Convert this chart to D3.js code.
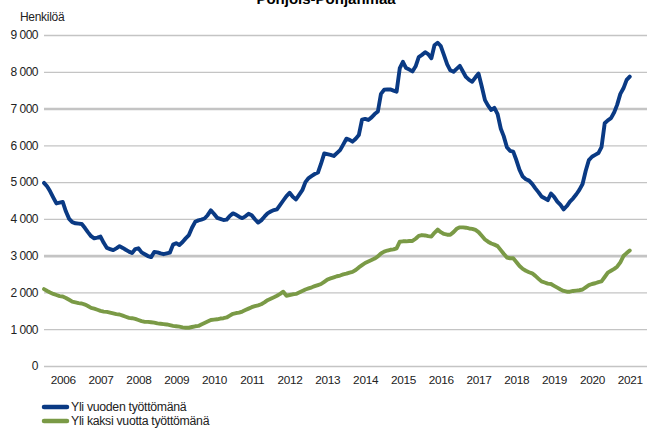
<!DOCTYPE html>
<html><head><meta charset="utf-8">
<script src="https://cdn.jsdelivr.net/npm/d3@7"></script>
<style>body{margin:0;background:#fff;}svg{display:block;font-family:"Liberation Sans",Arial,sans-serif;}</style>
</head><body><svg id="c" width="647" height="428"></svg>
<script>
const title = "Pohjois-Pohjanmaa";
const yTitle = "Henkilöä";
const seriesNames = ["Yli vuoden työttömänä", "Yli kaksi vuotta työttömänä"];
const yTicks = [0, 1000, 2000, 3000, 4000, 5000, 6000, 7000, 8000, 9000];
const yTickLabels = ["0", "1 000", "2 000", "3 000", "4 000", "5 000", "6 000", "7 000", "8 000", "9 000"];
const years = [2006,2007,2008,2009,2010,2011,2012,2013,2014,2015,2016,2017,2018,2019,2020,2021];
const startMonth = "2006-01";
// monthly, Jan 2006 – Jul 2021
const overOneYear = [
4980,4880,4750,4580,4420,4440,4460,4200,4000,3910,3880,3870,
3860,3750,3640,3530,3470,3490,3520,3350,3210,3180,3150,3200,
3260,3210,3160,3110,3070,3180,3200,3090,3040,2990,2960,3100,
3090,3060,3040,3060,3080,3300,3340,3290,3370,3470,3560,3760,
3920,3960,3980,4010,4100,4230,4140,4030,4000,3970,3980,4080,
4150,4110,4060,4020,4070,4140,4100,3990,3900,3960,4060,4150,
4200,4240,4260,4380,4500,4620,4710,4600,4530,4650,4780,5000,
5110,5170,5220,5260,5500,5780,5760,5740,5710,5790,5870,6020,
6180,6150,6100,6180,6280,6700,6720,6690,6760,6850,6920,7400,
7510,7520,7520,7490,7460,8100,8270,8100,8060,8010,8150,8400,
8460,8530,8480,8370,8720,8790,8700,8450,8200,8040,8000,8080,
8160,8000,7860,7780,7730,7850,7950,7600,7230,7080,6960,7020,
6850,6450,6250,5950,5850,5830,5600,5330,5150,5080,5040,4950,
4830,4720,4610,4560,4510,4690,4600,4470,4380,4260,4350,4470,
4560,4670,4790,4950,5300,5600,5690,5740,5790,5950,6600,6680,
6740,6900,7100,7400,7550,7780,7870];
const overTwoYears = [
2090,2040,2000,1960,1930,1900,1890,1850,1800,1750,1730,1710,
1700,1670,1630,1580,1560,1530,1500,1480,1470,1450,1430,1410,
1400,1370,1340,1310,1300,1280,1250,1220,1200,1200,1190,1180,
1160,1150,1140,1130,1110,1090,1080,1070,1050,1040,1040,1060,
1080,1090,1130,1170,1210,1250,1260,1270,1290,1300,1320,1370,
1420,1440,1450,1480,1520,1560,1600,1630,1650,1680,1730,1790,
1830,1870,1910,1960,2020,1910,1930,1950,1960,2000,2040,2080,
2110,2140,2170,2200,2230,2290,2350,2380,2410,2440,2460,2490,
2510,2540,2560,2610,2680,2740,2800,2840,2880,2920,2980,3060,
3110,3140,3160,3170,3200,3380,3390,3390,3400,3400,3460,3540,
3560,3550,3530,3520,3620,3710,3640,3590,3570,3570,3640,3730,
3770,3770,3760,3740,3730,3700,3640,3540,3440,3380,3330,3300,
3260,3150,3050,2950,2930,2930,2830,2720,2640,2590,2550,2520,
2450,2370,2300,2270,2240,2230,2180,2130,2080,2040,2020,2020,
2040,2050,2060,2080,2140,2200,2230,2250,2280,2300,2420,2540,
2590,2640,2700,2820,2990,3070,3140];

const colors = ["#0a3a84", "#7a9a46"];
const svg = d3.select("#c");
const parse = d3.timeParse("%Y-%m");
const t0 = parse(startMonth);
const months = d3.range(overOneYear.length).map(i => d3.timeMonth.offset(t0, i));

const x = d3.scaleTime().domain([new Date(2006,0,1), new Date(2022,0,1)]).range([44, 648.8]);
const y = d3.scaleLinear().domain([0, 9000]).range([366, 35]);

// title (cut at the top, as in the source image)
svg.append("text").attr("x", 326).attr("y", 4).attr("text-anchor", "middle")
  .attr("font-weight", "bold").attr("font-size", 15).attr("fill", "#000").text(title);
svg.append("text").attr("x", 20).attr("y", 21).attr("font-size", 12).attr("fill", "#222")
  .attr("letter-spacing", -0.3).text(yTitle);

// grid + y labels
const yAxis = d3.axisLeft(y).tickValues(yTicks).tickSize(0).tickPadding(6)
  .tickFormat((d, i) => yTickLabels[i]);
const gy = svg.append("g").attr("transform", "translate(44,0)").call(yAxis);
gy.select(".domain").remove();
gy.selectAll("text").attr("font-size", 12).attr("fill", "#222")
  .attr("font-family", "Liberation Sans, Arial, sans-serif").attr("letter-spacing", -0.5);
gy.selectAll(".tick").append("line").attr("x1", 0).attr("x2", 603)
  .attr("stroke", "#c4c4c4").attr("stroke-width", d => (d === 3000 || d === 7000) ? 2.6 : 1.3);

// x labels centered on years
const xAxis = d3.axisBottom(x).tickValues(years.map(yr => new Date(yr, 6, 1)))
  .tickSize(0).tickPadding(10).tickFormat(d => d.getFullYear());
const gx = svg.append("g").attr("transform", "translate(0,366)").call(xAxis);
gx.select(".domain").remove();
gx.selectAll("text").attr("font-size", 11.8).attr("fill", "#222")
  .attr("font-family", "Liberation Sans, Arial, sans-serif").attr("letter-spacing", -0.3);

// lines
const line = d3.line().x((d, i) => x(months[i])).y(d => y(d)).curve(d3.curveLinear);
[overTwoYears, overOneYear].forEach((s, k) => {
  svg.append("path").datum(s).attr("d", line).attr("fill", "none")
    .attr("stroke", colors[1 - k]).attr("stroke-width", 3.9)
    .attr("stroke-linejoin", "round").attr("stroke-linecap", "round");
});

// legend
seriesNames.forEach((n, i) => {
  const ly = 407 + i * 14;
  svg.append("line").attr("x1", 44).attr("x2", 67).attr("y1", ly).attr("y2", ly)
    .attr("stroke", colors[i]).attr("stroke-width", 4.5).attr("stroke-linecap", "round");
  svg.append("text").attr("x", 71).attr("y", ly + 4.2).attr("font-size", 12.3)
    .attr("letter-spacing", -0.3).attr("fill", "#222").text(n);
});
</script></body></html>
